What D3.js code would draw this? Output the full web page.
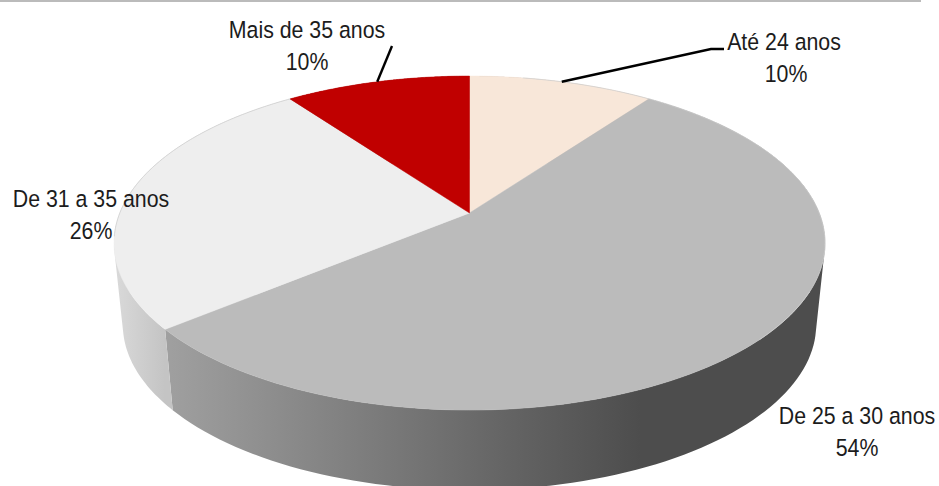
<!DOCTYPE html>
<html><head><meta charset="utf-8">
<style>html,body{margin:0;padding:0;background:#fff}svg{display:block}
text{font-family:"Liberation Sans",sans-serif;font-size:24.5px;fill:#1c1c1c;text-anchor:middle}</style>
<script src="https://cdn.jsdelivr.net/npm/d3@7/dist/d3.min.js"></script>
</head><body><script>
const categories = ["Até 24 anos","De 25 a 30 anos","De 31 a 35 anos","Mais de 35 anos"];
const shares = [10,54,26,10];
const topColors = ["#f8e7d9","#bbbbbb","#eeeeee","#c00000"];
const sideStops = [
  [[0,"#b8a99d"],[1,"#b8a99d"]],
  [[0,"#a0a0a0"],[0.72,"#4d4d4d"],[1,"#4d4d4d"]],
  [[0,"#d8d8d8"],[1,"#c4c4c4"]],
  [[0,"#800000"],[1,"#800000"]]
];
const labelX = [784,857,91,307];
const labelY = [50,424,207,38];
const W=939,H=486;
const svg=d3.select("body").append("svg").attr("width",W).attr("height",H);
const defs=svg.append("defs");

// Perspective projection of the pie disc
const P=0.18;
function project(d,a){
  const u=Math.sin(a),v=Math.cos(a),w=1+P*v;
  return [d.cx+d.A*u/w, d.cy-d.B*v/w];
}
const topDisc={cx:469.5,cy:213,A:349.7,B:161.6};
const botDisc={cx:469.5,cy:295,A:341,B:160};
const arcs=d3.pie().sort(null).value(d=>d)(shares);
const samples=(a0,a1)=>d3.range(0,121).map(i=>d3.interpolateNumber(a0,a1)(i/120));
const line=d3.line();

svg.append("rect").attr("x",0).attr("y",0).attr("width",921).attr("height",2).attr("fill","#bbbbbb");

// side walls: union of small hulls between the top and bottom rim of each slice
arcs.forEach((s,i)=>{
  const side=samples(s.startAngle,s.endAngle);
  const g=defs.append("linearGradient").attr("id","side"+i).attr("gradientUnits","userSpaceOnUse")
    .attr("x1",i===1?165:118).attr("x2",i===1?825:165).attr("y1",0).attr("y2",0);
  sideStops[i].forEach(st=>g.append("stop").attr("offset",st[0]).attr("stop-color",st[1]));
  const d=d3.pairs(side).map(([a,b])=>line(d3.polygonHull(
    [project(topDisc,a),project(topDisc,b),project(botDisc,b),project(botDisc,a)]))+"Z").join("");
  svg.append("path").attr("d",d).attr("fill",`url(#side${i})`);
});
// top faces
arcs.forEach((s,i)=>{
  const pts=[[topDisc.cx,topDisc.cy]].concat(samples(s.startAngle,s.endAngle).map(a=>project(topDisc,a)));
  svg.append("path").attr("d",line(pts)+"Z").attr("fill",topColors[i]).attr("stroke",topColors[i]).attr("stroke-width",0.5);
});
// faint rim along the far edge
[[arcs[2].startAngle+0.55,arcs[2].endAngle],[arcs[0].startAngle+0.18,arcs[0].endAngle],[arcs[1].startAngle,arcs[1].startAngle+1.7]].forEach(r=>{
  svg.append("path").attr("d",line(samples(r[0],r[1]).map(a=>project(topDisc,a))))
    .attr("fill","none").attr("stroke","#cfcfcf").attr("stroke-width",0.8);
});

// leader lines start at the mid-angle of their slice
const mid=s=>(s.startAngle+s.endAngle)/2;
const leaders=[[0,[[711,49],[724,49]]],[3,[[392,46]]]];
leaders.forEach(([i,rest])=>{
  svg.append("path").attr("d",line([project(topDisc,mid(arcs[i]))].concat(rest)))
    .attr("fill","none").attr("stroke","#000").attr("stroke-width",2.4);
});

// labels: condensed horizontally to match the narrow face
const squeeze=0.87;
const addLabel=(x,y,t)=>svg.append("text").attr("transform",`translate(${x},${y}) scale(${squeeze},1)`).text(t);
categories.forEach((c,i)=>{
  addLabel(labelX[i],labelY[i],c);
  addLabel(labelX[i]+(i===0?2:0),labelY[i]+32,shares[i]+"%");
});
</script></body></html>
